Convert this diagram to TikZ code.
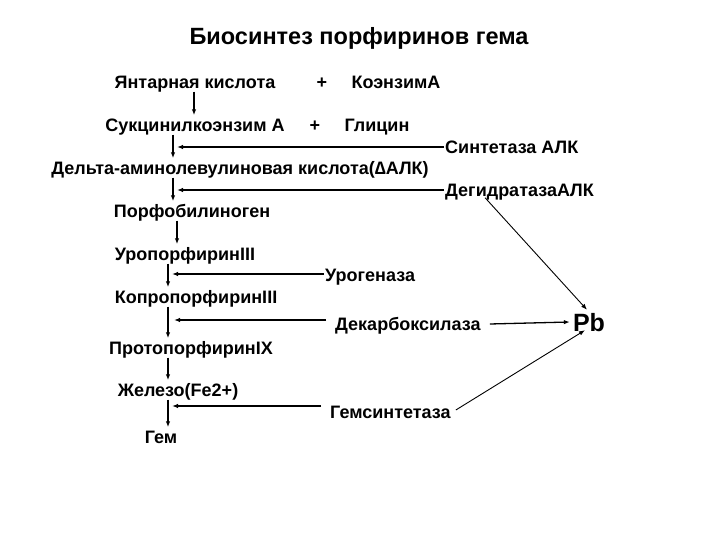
\documentclass[tikz,border=0pt]{standalone}
\usepackage{fontspec}
\setmainfont{Liberation Sans}
\usetikzlibrary{arrows.meta,positioning}

\begin{document}
\begin{tikzpicture}[x=1pt,y=-1pt,font=\fontsize{18}{21}\selectfont\bfseries,
    txt/.style={inner xsep=1pt,inner ysep=3pt,text height=13pt,text depth=0pt},
    arr/.style={-{Latex[length=6pt,width=4.5pt]},line width=1.3pt},
    thin arr/.style={-{Latex[length=6pt,width=4.5pt]},line width=0.9pt}]
  \useasboundingbox (0,0) rectangle (720,540);
  % stems
  \coordinate (s1) at (194,0);
  \coordinate (s2) at (173,0);
  \coordinate (s3) at (177,0);
  \coordinate (s4) at (168,0);
  % title and compounds
  \node[txt,font=\fontsize{23.5}{27}\selectfont\bfseries,text height=17pt] (title) at (359,36) {Биосинтез порфиринов гема};
  \node[txt] (yant)  at (195,82)  {Янтарная кислота};
  \node[txt] (plus1) at (322,82)  {+};
  \node[txt] (coa)   at (396,82)  {КоэнзимА};
  \node[txt] (suk)   at (195,125) {Сукцинилкоэнзим А};
  \node[txt] (plus2) at (315,125) {+};
  \node[txt] (gly)   at (377,125) {Глицин};
  \node[txt] (alk)   at (240,168) {Дельта-аминолевулиновая кислота(∆АЛК)};
  \node[txt] (pbg)   at (192,211) {Порфобилиноген};
  \node[txt] (uro)   at (185,254) {УропорфиринIII};
  \node[txt] (copro) at (196,297) {КопропорфиринIII};
  \node[txt] (proto) at (191,348) {ПротопорфиринIX};
  \node[txt] (fe)    at (178,390) {Железо(Fe2+)};
  \node[txt] (gem)   at (161,437) {Гем};
  % enzymes
  \node[txt,anchor=west] (sint)  at (444,147) {Синтетаза АЛК};
  \node[txt,anchor=west] (degid) at (444,190) {ДегидратазаАЛК};
  \node[txt,anchor=west] (urog)  at (324,275) {Урогеназа};
  \node[txt,anchor=west] (dekarb) at (334,324) {Декарбоксилаза};
  \node[txt,anchor=west] (gems)  at (329,412) {Гемсинтетаза};
  \node[txt,font=\fontsize{25}{28}\selectfont\bfseries,text height=18pt] (pb) at (589,322) {Pb};
  % main chain
  \draw[arr] (yant.south -| s1) -- (suk.north -| s1);
  \draw[arr] (suk.south -| s2) -- (alk.north -| s2);
  \draw[arr] (alk.south -| s2) -- (pbg.north -| s2);
  \draw[arr] (pbg.south -| s3) -- (uro.north -| s3);
  \draw[arr] (uro.south -| s4) -- (copro.north -| s4);
  \draw[arr] (copro.south -| s4) -- (proto.north -| s4);
  \draw[arr] (proto.south -| s4) -- (fe.north -| s4);
  \draw[arr] (fe.south -| s4) -- (gem.north -| s4);
  % enzymes to chain
  \draw[arr] (sint.west) -- ([xshift=4pt]sint.west -| s2);
  \draw[arr] (degid.west) -- ([xshift=4pt]degid.west -| s2);
  \draw[arr] ([yshift=1pt]urog.west) -- ([xshift=4pt,yshift=1pt]urog.west -| s4);
  \draw[arr] ([xshift=-8pt,yshift=4pt]dekarb.west) -- ([xshift=6pt,yshift=4pt]dekarb.west -| s4);
  \draw[arr] ([xshift=-8pt,yshift=6pt]gems.west) -- ([xshift=4pt,yshift=6pt]gems.west -| s4);
  % lead
  \draw[thin arr] ([xshift=-110pt,yshift=2pt]degid.south east) -- ([xshift=-2pt]pb.north);
  \draw[arr] ([xshift=8pt]dekarb.east) -- ([xshift=-2pt]pb.west);
  \draw[thin arr] ([xshift=4pt,yshift=2pt]gems.east) -- ([xshift=-4pt,yshift=4pt]pb.south);
\end{tikzpicture}
\end{document}
